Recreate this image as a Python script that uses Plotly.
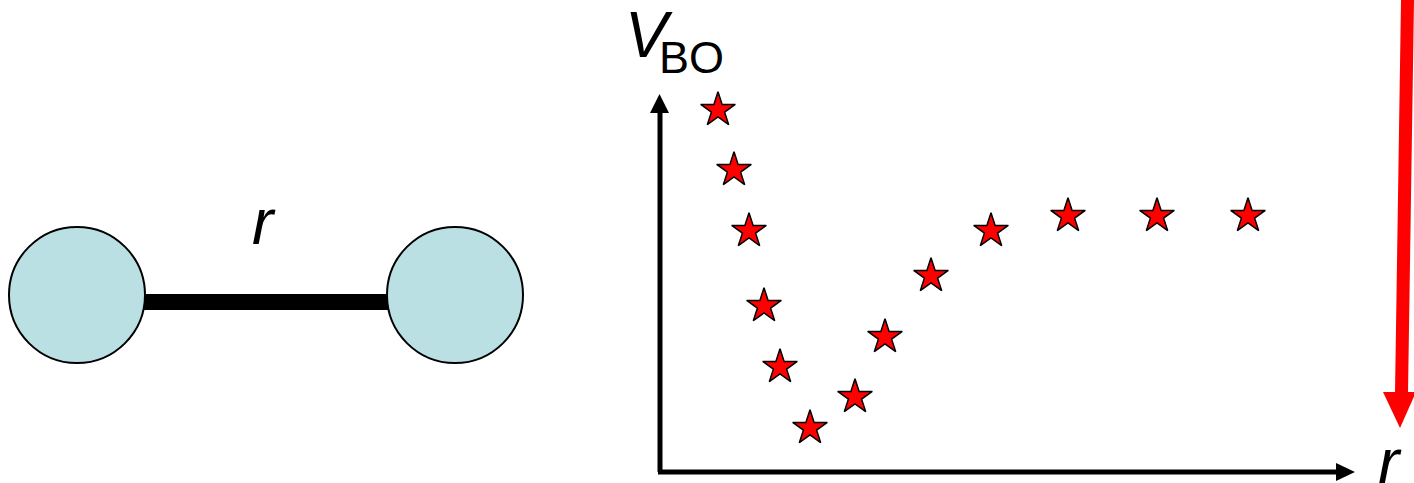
import plotly.graph_objects as go

# Data (axis origin at the corner of the drawn axes; units ~ pixels)
r_values = [58, 74, 89, 104, 120, 150, 195, 225, 271, 331, 408, 497, 588]
v_values = [362, 302, 241, 166, 105, 44, 75, 135, 196, 241, 256, 256, 256]

W, H = 1414, 483
OX, OY = 660, 472  # pixel position of the axis origin

def X(px):
    return px - OX

def Y(py):
    return OY - py

fig = go.Figure()
fig.add_trace(go.Scatter(
    x=r_values, y=v_values, mode="markers",
    marker=dict(symbol="star", size=26, color="#ff0000",
                line=dict(color="black", width=1.5)),
    hoverinfo="skip", showlegend=False,
))

shapes = []
# molecule: bond then atoms
shapes.append(dict(type="rect", x0=X(140), x1=X(392), y0=Y(310), y1=Y(294),
                   fillcolor="black", line=dict(width=0), layer="above"))
for cx in (77, 455):
    shapes.append(dict(type="circle", x0=X(cx - 68), x1=X(cx + 68),
                       y0=Y(363), y1=Y(227), fillcolor="#bae0e3",
                       line=dict(color="black", width=2), layer="above"))

# axes
shapes.append(dict(type="line", x0=X(660), y0=Y(472), x1=X(660), y1=Y(110),
                   line=dict(color="black", width=5)))
shapes.append(dict(type="line", x0=X(658), y0=Y(472), x1=X(1340), y1=Y(472),
                   line=dict(color="black", width=5)))
shapes.append(dict(type="path",
                   path=f"M {X(650)},{Y(113)} L {X(669)},{Y(113)} L {X(659.5)},{Y(94)} Z",
                   fillcolor="black", line=dict(width=0)))
shapes.append(dict(type="path",
                   path=f"M {X(1336)},{Y(463)} L {X(1336)},{Y(481)} L {X(1355)},{Y(472)} Z",
                   fillcolor="black", line=dict(width=0)))

# red arrow
shapes.append(dict(type="path",
                   path=(f"M {X(1401)},{Y(0)} L {X(1414)},{Y(0)} L {X(1408)},{Y(394)} "
                         f"L {X(1395)},{Y(394)} Z"),
                   fillcolor="#ff0000", line=dict(width=0)))
shapes.append(dict(type="path",
                   path=f"M {X(1383)},{Y(392)} L {X(1416)},{Y(392)} L {X(1400)},{Y(428)} Z",
                   fillcolor="#ff0000", line=dict(width=0)))

font = "Liberation Sans, Arial, sans-serif"
annotations = [
    dict(x=X(623), y=Y(35), text="<i>V</i>", showarrow=False,
         xanchor="left", yanchor="middle", font=dict(family=font, size=64, color="black")),
    dict(x=X(657), y=Y(57), text="BO", showarrow=False,
         xanchor="left", yanchor="middle", font=dict(family=font, size=45, color="black")),
    dict(x=X(264), y=Y(222), text="<i>r</i>", showarrow=False,
         xanchor="center", yanchor="middle", font=dict(family=font, size=64, color="black")),
    dict(x=X(1390), y=Y(462), text="<i>r</i>", showarrow=False,
         xanchor="center", yanchor="middle", font=dict(family=font, size=64, color="black")),
]

fig.update_layout(
    width=W, height=H, margin=dict(l=0, r=0, t=0, b=0),
    paper_bgcolor="white", plot_bgcolor="white",
    xaxis=dict(range=[X(0), X(W)], visible=False, fixedrange=True),
    yaxis=dict(range=[Y(H), Y(0)], visible=False, fixedrange=True),
    shapes=shapes, annotations=annotations, showlegend=False,
)
fig.write_html("out.html", config={"displayModeBar": False},
               post_script="document.body.style.margin='0';document.body.style.overflow='hidden';")
